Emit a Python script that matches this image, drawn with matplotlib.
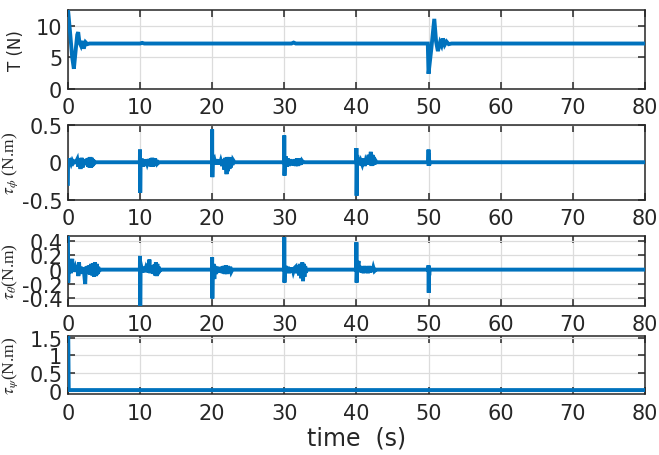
import numpy as np
import matplotlib
matplotlib.use("Agg")
import matplotlib.pyplot as plt

plt.rcParams['font.family'] = 'DejaVu Sans'
plt.rcParams['axes.unicode_minus'] = False
plt.rcParams['mathtext.fontset'] = 'stix'

# thrust T (N): (time, value)
thrust_pts = [(0, 12.8), (0.3, 9.0), (0.6, 5.0), (0.83, 3.2), (1.05, 5.8), (1.3, 8.6),
              (1.43, 9.0), (1.6, 7.4), (1.8, 6.9), (1.95, 7.6), (2.2, 6.4), (2.45, 7.4),
              (2.7, 7.1), (3.0, 7.2), (10.0, 7.2), (10.3, 7.3), (10.6, 7.2), (31.0, 7.2),
              (31.3, 7.35), (31.6, 7.2), (49.9, 7.2), (50.0, 2.4), (50.4, 6.5), (50.8, 11.1),
              (51.05, 7.5), (51.3, 6.0), (51.6, 7.4), (51.8, 6.9), (52.0, 8.0), (52.25, 7.0),
              (52.5, 7.5), (52.8, 7.1), (53.2, 7.2), (80, 7.2)]

# roll torque tau_phi (N.m)
phi_pts = [(0, -0.29), (0.03, 0.05), (0.1, 0.0), (0.3, 0.02), (0.45, -0.02), (0.6, 0.02),
           (0.75, -0.01), (0.9, 0.01), (1.1, 0.0), (1.3, 0.04), (1.45, -0.06), (1.6, 0.05),
           (1.75, -0.09), (1.9, 0.06), (2.05, -0.07), (2.2, 0.03), (2.35, -0.03), (2.5, 0.04),
           (2.6, -0.04), (2.7, 0.05), (2.8, -0.06), (2.9, 0.06), (3.0, -0.07), (3.1, 0.07),
           (3.2, -0.07), (3.3, 0.06), (3.4, -0.05), (3.5, 0.04), (3.6, -0.02), (3.8, 0.0),
           (9.98, 0.0), (10.0, 0.17), (10.03, -0.41), (10.08, 0.0), (10.25, 0.05), (10.4, -0.06),
           (10.55, 0.04), (10.7, -0.05), (10.85, 0.03), (11.0, -0.02), (11.2, 0.04), (11.35, -0.05),
           (11.5, 0.05), (11.6, -0.06), (11.7, 0.06), (11.8, -0.06), (11.9, 0.05), (12.0, -0.05),
           (12.1, 0.05), (12.2, -0.04), (12.3, 0.03), (12.4, -0.02), (12.6, 0.0),
           (19.98, 0.0), (20.0, 0.44), (20.03, -0.2), (20.08, 0.0), (20.3, 0.04), (20.45, -0.03),
           (20.6, 0.04), (20.75, -0.03), (20.9, 0.03), (21.05, -0.03), (21.2, 0.02), (21.4, -0.05),
           (21.55, 0.04), (21.7, -0.1), (21.85, 0.06), (22.0, -0.16), (22.1, 0.07), (22.2, -0.12),
           (22.3, 0.07), (22.4, -0.09), (22.5, 0.06), (22.6, -0.07), (22.7, 0.05), (22.8, -0.04),
           (22.9, 0.03), (23.1, 0.0),
           (29.98, 0.0), (30.0, 0.36), (30.03, -0.18), (30.08, 0.0), (30.2, 0.08), (30.35, -0.06),
           (30.5, 0.05), (30.65, -0.05), (30.8, 0.04), (30.95, -0.04), (31.1, 0.03), (31.3, -0.04),
           (31.45, 0.04), (31.6, -0.05), (31.75, 0.05), (31.9, -0.05), (32.0, 0.05), (32.1, -0.04),
           (32.2, 0.04), (32.3, -0.03), (32.45, 0.02), (32.6, 0.0),
           (39.98, 0.0), (40.0, 0.19), (40.03, -0.45), (40.08, 0.0), (40.25, 0.03), (40.4, -0.04),
           (40.6, 0.02), (40.8, -0.03), (41.0, 0.05), (41.15, -0.05), (41.3, 0.02), (41.5, -0.03),
           (41.7, 0.1), (41.85, -0.03), (42.0, 0.14), (42.1, -0.05), (42.2, 0.1), (42.3, -0.04),
           (42.4, 0.06), (42.5, -0.03), (42.6, 0.03), (42.8, 0.0),
           (49.98, 0.0), (50.0, 0.17), (50.03, -0.05), (50.06, 0.12), (50.1, -0.04), (50.15, 0.0),
           (80, 0.0)]

# pitch torque tau_theta (N.m)
theta_pts = [(0, 0.6), (0.05, -0.18), (0.12, 0.04), (0.22, -0.04), (0.32, 0.05), (0.42, -0.05),
             (0.52, 0.08), (0.6, 0.15), (0.68, -0.03), (0.78, 0.05), (0.9, -0.03), (1.05, 0.03),
             (1.2, -0.02), (1.35, 0.06), (1.45, -0.09), (1.55, 0.1), (1.65, -0.06), (1.8, 0.04),
             (1.95, -0.05), (2.1, 0.03), (2.25, -0.05), (2.4, -0.2), (2.5, 0.04), (2.62, -0.05),
             (2.75, 0.05), (2.88, -0.06), (3.0, 0.06), (3.12, -0.07), (3.25, 0.08), (3.38, -0.08),
             (3.5, 0.09), (3.62, -0.1), (3.75, 0.1), (3.88, -0.09), (4.0, 0.08), (4.1, -0.06),
             (4.2, 0.04), (4.3, -0.02), (4.45, 0.0),
             (9.98, 0.0), (10.0, 0.19), (10.03, -0.55), (10.08, 0.0), (10.2, 0.03), (10.35, -0.04),
             (10.5, 0.04), (10.65, -0.03), (10.8, 0.02), (10.95, -0.03), (11.1, 0.08), (11.2, -0.04),
             (11.3, 0.14), (11.4, -0.05), (11.55, 0.06), (11.7, -0.04), (11.8, 0.05), (11.9, -0.06),
             (12.0, 0.07), (12.1, -0.08), (12.2, 0.1), (12.3, -0.09), (12.4, 0.08), (12.5, -0.06),
             (12.6, 0.04), (12.7, -0.02), (12.85, 0.0),
             (19.98, 0.0), (20.0, 0.17), (20.03, -0.40), (20.08, 0.0), (20.2, 0.08), (20.3, -0.13),
             (20.42, 0.05), (20.55, -0.06), (20.7, 0.04), (20.85, -0.04), (21.0, 0.03), (21.15, -0.04),
             (21.3, 0.04), (21.45, -0.05), (21.6, 0.05), (21.75, -0.06), (21.9, 0.06), (22.05, -0.06),
             (22.2, 0.05), (22.35, -0.05), (22.5, 0.04), (22.65, -0.03), (22.8, 0.0),
             (29.98, 0.0), (30.0, 0.45), (30.03, -0.18), (30.08, 0.0), (30.2, 0.05), (30.35, -0.04),
             (30.5, 0.04), (30.65, -0.05), (30.8, 0.03), (30.95, -0.04), (31.1, 0.03), (31.25, -0.03),
             (31.4, 0.02), (31.6, 0.04), (31.75, -0.05), (31.9, 0.06), (32.05, -0.08), (32.2, 0.08),
             (32.35, -0.12), (32.5, 0.1), (32.6, -0.16), (32.7, 0.08), (32.8, -0.1), (32.9, 0.05),
             (33.0, -0.04), (33.15, 0.0),
             (39.98, 0.0), (40.0, 0.38), (40.03, -0.18), (40.08, 0.0), (40.2, 0.07), (40.3, 0.12),
             (40.4, -0.03), (40.55, 0.05), (40.7, -0.04), (40.85, 0.04), (41.0, -0.05), (41.15, 0.05),
             (41.3, -0.04), (41.45, 0.04), (41.6, -0.05), (41.75, 0.05), (41.9, -0.04), (42.05, 0.04),
             (42.2, -0.03), (42.35, 0.03), (42.5, -0.02), (42.7, 0.0),
             (49.98, 0.0), (50.0, 0.06), (50.03, -0.32), (50.06, 0.04), (50.1, -0.08), (50.15, 0.0),
             (80, 0.0)]

# yaw torque tau_psi (N.m)
psi_pts = [(0, 1.6), (0.05, 1.6), (0.12, 0.02), (80, 0.02)]

ylabels = ['T (N)', r'$\tau_\phi$ (N.m)', r'$\tau_\theta$(N.m)', r'$\tau_\psi$(N.m)']
ylims = [(0, 12.5), (-0.5, 0.5), (-0.5, 0.47), (-0.1, 1.54)]
yticks = [[0, 5, 10], [-0.5, 0, 0.5], [-0.4, -0.2, 0, 0.2, 0.4], [0, 0.5, 1, 1.5]]
yticklabels = [['0', '5', '10'], ['-0.5', '0', '0.5'],
               ['-0.4', '-0.2', '0', '0.2', '0.4'], ['0', '0.5', '1', '1.5']]
xticks = [0, 10, 20, 30, 40, 50, 60, 70, 80]
series = [thrust_pts, phi_pts, theta_pts, psi_pts]

# axes boxes in figure fractions (left, bottom, width, height)
boxes = [[0.103, 0.8026, 0.8756, 0.1732],
         [0.103, 0.5603, 0.8756, 0.1634],
         [0.103, 0.3274, 0.8756, 0.1535],
         [0.103, 0.1331, 0.8756, 0.1272]]
label_x = [-0.075, -0.083, -0.083, -0.083]

fig = plt.figure(figsize=(6.59, 4.56), dpi=100)
for i in range(4):
    ax = fig.add_axes(boxes[i])
    t, v = np.array(series[i]).T
    ax.plot(t, v, color='#0072BD', lw=2.8, solid_joinstyle='miter', zorder=3)
    ax.set_xlim(0, 80)
    ax.set_ylim(*ylims[i])
    ax.set_xticks(xticks)
    ax.set_xticklabels([str(x) for x in xticks])
    ax.set_yticks(yticks[i])
    ax.set_yticklabels(yticklabels[i])
    ax.grid(True, color='#dcdcdc', lw=0.9)
    ax.set_axisbelow(True)
    ax.tick_params(direction='in', top=True, right=True, length=5, width=1.1,
                   labelsize=15, colors='#262626', pad=4)
    ax.tick_params(axis='x', pad=6)
    for s in ax.spines.values():
        s.set_color('#262626')
        s.set_linewidth(1.1)
        s.set_zorder(2.5)
    if i == 0:
        ax.set_ylabel(ylabels[i], fontsize=12, color='#262626')
    else:
        ax.set_ylabel(ylabels[i], fontsize=12.5, color='#262626', family='Liberation Serif')
    ax.yaxis.set_label_coords(label_x[i], 0.5)
    if i == 3:
        ax.set_xlabel('time  (s)', fontsize=17, color='#262626', labelpad=2)

plt.savefig('out.png', dpi=100)
